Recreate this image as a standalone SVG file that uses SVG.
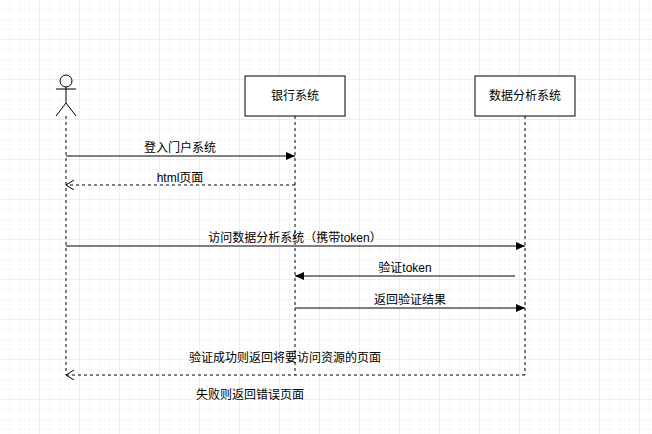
<svg xmlns="http://www.w3.org/2000/svg" width="652" height="434" viewBox="0 0 652 434">
<defs>
<pattern id="g" width="10" height="10" patternUnits="userSpaceOnUse"><path d="M10 0V10H0" fill="none" stroke="#f0f0f0" stroke-width="1"/></pattern>
<pattern id="G" width="40" height="40" patternUnits="userSpaceOnUse"><rect width="40" height="40" fill="url(#g)"/><path d="M40 0V40H0" fill="none" stroke="#e4e4e4" stroke-width="1"/></pattern>
<marker id="fa" markerWidth="10" markerHeight="8" refX="9" refY="4" orient="auto" markerUnits="userSpaceOnUse"><path d="M0 0L9 4L0 8Z" fill="#000"/></marker>
<marker id="oa" markerWidth="11" markerHeight="11" refX="9" refY="5" orient="auto" markerUnits="userSpaceOnUse"><path d="M1 0L9 5L1 10" fill="none" stroke="#000"/></marker>
<style>
text{font-family:"Liberation Sans","Noto Sans CJK SC",sans-serif;font-size:12px;fill:#000;text-anchor:middle}
.l{stroke:#000;fill:none}
.d{stroke-dasharray:3 3}
.box{fill:#fff;stroke:#000}
</style>
</defs>
<rect width="652" height="434" fill="#fff"/>
<rect width="652" height="434" fill="url(#G)"/>
<g id="user">
<circle cx="66" cy="81" r="6" class="l"/>
<path d="M66 87V103M56 89H76M66 103L56 116M66 103L76 116" class="l"/>
<path d="M66 116V375" class="l d"/>
</g>
<g id="bank">
<rect x="245" y="76" width="100" height="40" class="box"/>
<text x="295" y="100">银行系统</text>
<path d="M295 116V375" class="l d"/>
</g>
<g id="data">
<rect x="475" y="76" width="100" height="40" class="box"/>
<text x="525" y="100">数据分析系统</text>
<path d="M525 116V375" class="l d"/>
</g>
<g id="connectors">
<path d="M66 156H295" class="l" marker-end="url(#fa)"/>
<text x="180" y="152">登入门户系统</text>
<path d="M295 185H66" class="l d" marker-end="url(#oa)"/>
<text x="180" y="182">html页面</text>
<path d="M66 246H525" class="l" marker-end="url(#fa)"/>
<text x="295" y="242">访问数据分析系统（携带token）</text>
<path d="M515 276H295" class="l" marker-end="url(#fa)"/>
<text x="405" y="272">验证token</text>
<path d="M295 308H525" class="l" marker-end="url(#fa)"/>
<text x="410" y="304">返回验证结果</text>
<path d="M525 375H66" class="l d" marker-end="url(#oa)"/>
<text x="285" y="362">验证成功则返回将要访问资源的页面</text>
<text x="250" y="399">失败则返回错误页面</text>
</g>
</svg>
